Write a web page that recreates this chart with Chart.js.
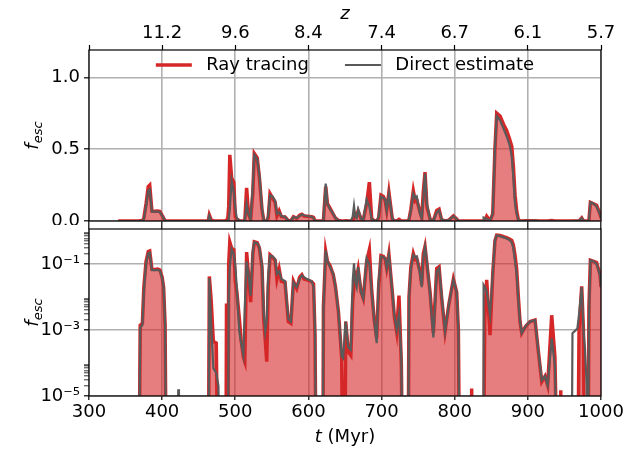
<!DOCTYPE html>
<html>
<head>
<meta charset="utf-8">
<script src="https://cdn.jsdelivr.net/npm/chart.js@4.4.1/dist/chart.umd.min.js"></script>
<style>
  html, body { margin: 0; padding: 0; background: #fff; }
  #wrap { position: relative; width: 625px; height: 449px; }
  #wrap canvas { position: absolute; left: 0; }
  #topChart { top: 0; }
  #bottomChart { top: 225px; }
</style>
</head>
<body>
<div id="wrap">
  <canvas id="topChart" width="625" height="225"></canvas>
  <canvas id="bottomChart" width="625" height="224"></canvas>
</div>
<script>
// time (Myr) and escape fractions; 0 = below 1e-5
const timeMyr = [
  340, 368, 370, 373, 375, 378, 381, 383, 386, 390,
  394, 397, 400, 402, 404, 406, 421, 422, 423, 463,
  464.5, 467, 470, 474, 477, 479, 487, 488, 489.5, 491,
  492.5, 495, 498, 500, 502, 505.5, 508, 511, 513, 515.5,
  518, 521, 524, 526, 530, 533, 536.5, 539, 541, 543,
  545, 547.5, 551, 554.5, 557, 560, 563, 568, 572.5, 576,
  579.5, 584, 588, 591, 594, 598, 604.5, 607, 609, 611,
  619.5, 620.5, 623.6, 626, 629.5, 634, 637, 641, 645.5, 647.5,
  649.5, 651, 654.5, 658, 660.5, 662.3, 664, 666, 668, 672,
  675, 679.6, 683.3, 686.5, 690, 693.3, 696, 699.2, 702.5, 705,
  707, 710, 714.7, 717.5, 720.6, 723.8, 727, 729.7, 736, 737.5,
  740, 743.4, 746, 748, 752.6, 754.9, 757, 759.4, 762, 766.3,
  770.8, 775.4, 778.6, 782, 786.8, 792, 798.2, 802.7, 805, 807.3,
  822, 823.2, 824.5, 838.8, 839.5, 841, 843.7, 848.3, 852, 855,
  857.4, 862, 867, 871, 875, 878, 880.2, 882.5, 884.7, 887,
  889.3, 891.6, 897, 903, 909.8, 914.4, 919, 923.5, 927.1, 932.6,
  937, 941.5, 944, 945, 946, 959.5, 961, 967.7, 970, 973.6,
  976, 978, 980.5, 982, 983.5, 985.5, 990, 994, 998.7, 1000
];
const rayTracing = [
  0, 0, 0.0014, 0.0016, 0.02, 0.12, 0.24, 0.25, 0.07, 0.068,
  0.07, 0.066, 0.04, 0.02, 0.0015, 0, 0, 0, 0, 0,
  0.042, 0.008, 0.00045, 0.0004, 0, 0, 0, 0.0064, 0, 0.1,
  0.46, 0.3, 0.27, 0.03, 0.015, 0.0023, 0.0005, 0.00015, 0.00011, 0.23,
  0.05, 0.007, 0.2, 0.47, 0.44, 0.3, 0.08, 0.002, 0.0005, 0.00011,
  0.02, 0.19, 0.16, 0.13, 0.035, 0.07, 0.03, 0.028, 0.0018, 0.0016,
  0.03, 0.018, 0.04, 0.047, 0.035, 0.033, 0.029, 0.025, 0.0007, 0,
  0, 0.005, 0.24, 0.12, 0.09, 0.047, 0.02, 0.0036, 0.00014, 0,
  0, 0.0018, 0.00022, 0.00017, 0.008, 0.02, 0.05, 0.04, 0.07, 0.014,
  0.009, 0.12, 0.27, 0.016, 0.002, 0.00056, 0.02, 0.18, 0.17, 0.14,
  0.075, 0.2, 0.014, 0.0025, 0.0009, 0.011, 0.0001, 0, 0, 0.01,
  0.08, 0.21, 0.14, 0.15, 0.06, 0.023, 0.2, 0.34, 0.1, 0.014,
  0.0008, 0.074, 0.083, 0.01, 0.0009, 0.006, 0.035, 0.014, 0.001, 0,
  0, 0.000017, 0, 0, 0, 0.002, 0.033, 0.0007, 0.05, 0.5,
  0.75, 0.73, 0.67, 0.63, 0.57, 0.52, 0.38, 0.18, 0.07, 0.01,
  0.0018, 0.0008, 0.0013, 0.0018, 0.002, 0.00022, 0.000027, 0.00004, 0.000021, 0.0028,
  0.00015, 0, 0, 0.000015, 0, 0, 0, 0, 0.001, 0.021,
  0.001, 0, 0, 0, 0.005, 0.13, 0.12, 0.11, 0.047, 0.02
];
const directEstimate = [
  0, 0, 0.0012, 0.0014, 0.015, 0.1, 0.21, 0.22, 0.065, 0.065,
  0.066, 0.062, 0.038, 0.02, 0.0015, 0, 0, 0.000016, 0, 0,
  0.037, 0.0015, 0.00007, 0.00005, 0.00002, 0, 0, 0, 0, 0.01,
  0.08, 0.28, 0.2, 0.09, 0.02, 0.0009, 0.0004, 0.00017, 0.005, 0.12,
  0.05, 0.011, 0.25, 0.46, 0.43, 0.32, 0.09, 0.003, 0.0009, 0.002,
  0.04, 0.18, 0.17, 0.14, 0.05, 0.06, 0.035, 0.03, 0.0022, 0.0018,
  0.028, 0.02, 0.035, 0.045, 0.04, 0.035, 0.03, 0.02, 0.001, 0,
  0, 0.004, 0.26, 0.12, 0.083, 0.05, 0.02, 0.0035, 0.00016, 0.00014,
  0.0008, 0.0018, 0.0003, 0.00025, 0.03, 0.105, 0.03, 0.02, 0.08, 0.014,
  0.009, 0.15, 0.1, 0.014, 0.002, 0.0004, 0.03, 0.17, 0.16, 0.15,
  0.075, 0.19, 0.014, 0.0028, 0.001, 0.003, 0.00015, 0, 0, 0.01,
  0.07, 0.19, 0.16, 0.17, 0.05, 0.02, 0.15, 0.33, 0.12, 0.012,
  0.0006, 0.06, 0.075, 0.012, 0.0009, 0.006, 0.033, 0.014, 0.001, 0,
  0, 0, 0, 0, 0.023, 0.02, 0.015, 0.0028, 0.05, 0.5,
  0.73, 0.7, 0.64, 0.59, 0.53, 0.45, 0.3, 0.12, 0.05, 0.008,
  0.0018, 0.0008, 0.0013, 0.0018, 0.002, 0.00022, 0.00003, 0.00004, 0.000021, 0.00056,
  0.00008, 0, 0, 0, 0, 0, 0.0008, 0.0011, 0.003, 0.02,
  0.001, 0.0003, 0.00002, 0, 0.002, 0.13, 0.12, 0.1, 0.045, 0.02
];

const xTicks = [300, 400, 500, 600, 700, 800, 900, 1000];
const zTickLabels = ['', '11.2', '9.6', '8.4', '7.4', '6.7', '6.1', '5.7'];
const linearYTicks = [0, 0.5, 1.0];
const logMajorTicks = [1e-5, 1e-3, 1e-1];
const logMajorLabels = ['10\u207B\u2075', '10\u207B\u00B3', '10\u207B\u00B9'];
const logMinorTicks = [
  2e-5, 3e-5, 4e-5, 5e-5, 6e-5, 7e-5, 8e-5, 9e-5,
  2e-3, 3e-3, 4e-3, 5e-3, 6e-3, 7e-3, 8e-3, 9e-3,
  2e-1, 3e-1, 4e-1, 5e-1, 6e-1, 7e-1, 8e-1, 9e-1
];

const RED = '#d62728';
const RED_FILL = 'rgba(214, 39, 40, 0.6)';
const GREY = '#5a5a5a';
const GRID = '#b0b0b0';
const FONT = '"DejaVu Sans"';

Chart.defaults.font.family = FONT;
Chart.defaults.font.size = 18;
Chart.defaults.color = '#000';

// log axis can't show 0: push it far below the axis, like matplotlib's clip
function points(values, logAxis) {
  return timeMyr.map((t, i) => ({ x: t, y: logAxis && values[i] <= 0 ? 1e-9 : values[i] }));
}

function noPadding(scale) {
  scale.paddingTop = 0; scale.paddingBottom = 0;
  scale.paddingLeft = 0; scale.paddingRight = 0;
}

const framePlugin = {
  id: 'frame',
  afterDraw(chart) {
    const { ctx, chartArea: a } = chart;
    ctx.save();
    ctx.strokeStyle = '#000';
    ctx.lineWidth = 1.2;
    ctx.strokeRect(a.left, a.top, a.right - a.left, a.bottom - a.top);
    ctx.restore();
  }
};

function drawYTitle(chart) {
  const { ctx, chartArea: a } = chart;
  ctx.save();
  ctx.translate(38, (a.top + a.bottom) / 2);
  ctx.rotate(-Math.PI / 2);
  ctx.fillStyle = '#000';
  ctx.textBaseline = 'alphabetic';
  ctx.font = 'italic 18px ' + FONT;
  const fw = ctx.measureText('f').width;
  ctx.font = 'italic 13px ' + FONT;
  const sw = ctx.measureText('esc').width;
  const x0 = -(fw + sw) / 2;
  ctx.font = 'italic 18px ' + FONT;
  ctx.fillText('f', x0, 0);
  ctx.font = 'italic 13px ' + FONT;
  ctx.fillText('esc', x0 + fw, 4);
  ctx.restore();
}

const topTitles = {
  id: 'topTitles',
  afterDraw(chart) {
    const { ctx, chartArea: a } = chart;
    drawYTitle(chart);
    ctx.save();
    ctx.fillStyle = '#000';
    ctx.font = 'italic 18px ' + FONT;
    ctx.textAlign = 'center';
    ctx.textBaseline = 'middle';
    ctx.fillText('z', (a.left + a.right) / 2, 14);
    ctx.restore();
  }
};

const bottomTitles = {
  id: 'bottomTitles',
  afterDraw(chart) {
    const { ctx, chartArea: a } = chart;
    drawYTitle(chart);
    ctx.save();
    ctx.fillStyle = '#000';
    ctx.textBaseline = 'middle';
    ctx.font = 'italic 18px ' + FONT;
    const tw = ctx.measureText('t').width;
    ctx.font = '18px ' + FONT;
    const rw = ctx.measureText(' (Myr)').width;
    const x0 = (a.left + a.right) / 2 - (tw + rw) / 2;
    const y = a.bottom + 41;
    ctx.font = 'italic 18px ' + FONT;
    ctx.fillText('t', x0, y);
    ctx.font = '18px ' + FONT;
    ctx.fillText(' (Myr)', x0 + tw, y);
    ctx.restore();
  }
};

const panelLegend = {
  id: 'panelLegend',
  afterDraw(chart) {
    const { ctx, chartArea: a } = chart;
    const fs = 18, handle = 2 * fs, pad = 0.8 * fs, gap = 2 * fs;
    ctx.save();
    ctx.font = fs + 'px ' + FONT;
    const items = chart.data.datasets;
    const widths = items.map(ds => handle + pad + ctx.measureText(ds.label).width);
    const total = widths.reduce((s, w) => s + w, 0) + gap * (items.length - 1);
    let x = (a.left + a.right) / 2 - total / 2;
    const y = a.top + 15;
    items.forEach((ds, i) => {
      ctx.strokeStyle = ds.borderColor;
      ctx.lineWidth = ds.borderWidth;
      ctx.beginPath();
      ctx.moveTo(x, y);
      ctx.lineTo(x + handle, y);
      ctx.stroke();
      ctx.fillStyle = '#000';
      ctx.textBaseline = 'middle';
      ctx.fillText(ds.label, x + handle + pad, y);
      x += widths[i] + gap;
    });
    ctx.restore();
  }
};

function datasets(logAxis) {
  return [
    {
      label: 'Ray tracing',
      data: points(rayTracing, logAxis),
      borderColor: RED, borderWidth: 3.5,
      backgroundColor: RED_FILL,
      fill: logAxis ? 'start' : 'origin',
      pointRadius: 0, tension: 0, order: 1
    },
    {
      label: 'Direct estimate',
      data: points(directEstimate, logAxis),
      borderColor: GREY, borderWidth: 2.2,
      fill: false, pointRadius: 0, tension: 0, order: 0
    }
  ];
}

function timeAxis(position, height, showLabels, gridOn) {
  return {
    type: 'linear', position: position, min: 300, max: 1000,
    afterBuildTicks: s => { s.ticks = xTicks.map(v => ({ value: v })); },
    afterFit: s => { s.height = height; noPadding(s); },
    border: { display: false },
    grid: {
      drawOnChartArea: gridOn, color: GRID, lineWidth: 1.6,
      tickColor: '#000', tickWidth: 1.2, tickLength: 4
    },
    ticks: {
      display: showLabels, autoSkip: false, maxRotation: 0, padding: 2,
      callback: v => String(v)
    }
  };
}

const baseOptions = {
  responsive: false,
  animation: false,
  layout: { padding: { left: 0, right: 24, top: 0, bottom: 0 } },
  plugins: { legend: { display: false }, tooltip: { enabled: false } }
};

// top panel: linear f_esc with redshift axis on top
new Chart(document.getElementById('topChart'), {
  type: 'line',
  data: { datasets: datasets(false) },
  options: Object.assign({}, baseOptions, {
    scales: {
      x: timeAxis('bottom', 4, false, true),
      z: {
        type: 'linear', position: 'top', min: 300, max: 1000,
        afterBuildTicks: s => { s.ticks = xTicks.map(v => ({ value: v })); },
        afterFit: s => { s.height = 50; noPadding(s); },
        border: { display: false },
        grid: { drawOnChartArea: false, tickColor: '#000', tickWidth: 1.2, tickLength: 5 },
        ticks: {
          autoSkip: false, maxRotation: 0, padding: 1,
          callback: (v, i) => zTickLabels[i]
        }
      },
      y: {
        type: 'linear', min: 0, max: 1.19,
        afterBuildTicks: s => { s.ticks = linearYTicks.map(v => ({ value: v })); },
        afterFit: s => { s.width = 89; noPadding(s); },
        border: { display: false },
        grid: { color: GRID, lineWidth: 1.6, tickColor: '#000', tickWidth: 1.2, tickLength: 5 },
        ticks: { padding: 4, callback: v => v.toFixed(1) }
      }
    }
  }),
  plugins: [framePlugin, topTitles, panelLegend]
});

// bottom panel: same data on a log axis
new Chart(document.getElementById('bottomChart'), {
  type: 'line',
  data: { datasets: datasets(true) },
  options: Object.assign({}, baseOptions, {
    scales: {
      x: timeAxis('bottom', 53, true, true),
      xTop: timeAxis('top', 4, false, false),
      y: {
        type: 'logarithmic', min: 1e-5, max: 1.15,
        afterBuildTicks: s => {
          s.ticks = logMajorTicks.map(v => ({ value: v, major: true }))
            .concat(logMinorTicks.map(v => ({ value: v, major: false })))
            .sort((p, q) => p.value - q.value);
        },
        afterFit: s => { s.width = 89; noPadding(s); },
        border: { display: false },
        grid: {
          color: c => (c.tick && c.tick.major ? GRID : 'rgba(0,0,0,0)'),
          lineWidth: 1.6, tickColor: '#000',
          tickWidth: c => (c.tick && c.tick.major ? 1.2 : 0.8),
          tickLength: 5
        },
        ticks: {
          autoSkip: false, padding: 4,
          callback: (v, i, ticks) => {
            const k = logMajorTicks.indexOf(ticks[i].value);
            return k >= 0 ? logMajorLabels[k] : '';
          }
        }
      }
    }
  }),
  plugins: [framePlugin, bottomTitles]
});
</script>
</body>
</html>
